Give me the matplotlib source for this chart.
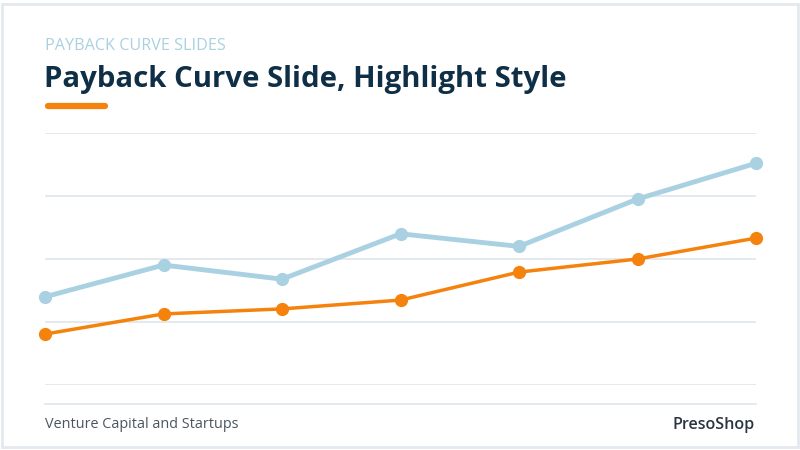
import matplotlib.pyplot as plt
from matplotlib.patches import FancyBboxPatch
from matplotlib.lines import Line2D

# Data
periods = [0, 1, 2, 3, 4, 5, 6]
series_blue = [35, 47.6, 42, 60, 55, 73.8, 88]
series_orange = [20.2, 28.2, 30.2, 33.7, 44.8, 50, 58.3]
y_ticks = [0, 25, 50, 75, 100]

kicker = "PAYBACK CURVE SLIDES"
title = "Payback Curve Slide, Highlight Style"
footer_left = "Venture Capital and Startups"
footer_right = "PresoShop"

NAVY = "#0f2f47"
BLUE = "#a9d1e1"
ORANGE = "#f5820d"
GRID = "#dfe5ea"

plt.rcParams["font.family"] = ["Open Sans", "DejaVu Sans"]

fig = plt.figure(figsize=(8, 4.5), dpi=100)
fig.patch.set_facecolor("white")

W, H = 800, 450


def fx(px):
    return px / W


def fy(py):
    return 1 - py / H


# card border
fig.add_artist(FancyBboxPatch(
    (fx(2), fy(447)), fx(796), 443 / H,
    boxstyle="square,pad=0",
    transform=fig.transFigure,
    facecolor="white",
    edgecolor="#e3e9ee",
    linewidth=2,
    zorder=0
))

fig.text(fx(45), fy(46), kicker, color="#a9d1e1",
         fontsize=11.6, va="center", ha="left")
fig.text(fx(44), fy(79), title, color=NAVY,
         fontsize=21.2, fontweight="bold", va="center", ha="left")

fig.add_artist(Line2D(
    [fx(48), fx(105)], [fy(106), fy(106)],
    transform=fig.transFigure,
    color=ORANGE, linewidth=4.5, solid_capstyle="round"
))

# chart area
ax = fig.add_axes([fx(45), fy(385), fx(756 - 45), (385 - 133) / H])
ax.set_xlim(0, 6)
ax.set_ylim(0, 100)
ax.set_yticks(y_ticks)
ax.set_xticks([])
ax.tick_params(left=False, labelleft=False)
ax.grid(axis="y", color=GRID, linewidth=1.2)
for s in ax.spines.values():
    s.set_visible(False)
ax.set_facecolor("none")

ax.plot(periods, series_blue, color=BLUE, linewidth=3.5,
        marker="o", markersize=8.5, clip_on=False, zorder=3)
ax.plot(periods, series_orange, color=ORANGE, linewidth=2.5,
        marker="o", markersize=8.5, clip_on=False, zorder=4)

# footer separator
fig.add_artist(Line2D(
    [fx(45), fx(756)], [fy(404), fy(404)],
    transform=fig.transFigure,
    color=GRID, linewidth=1.2
))

fig.text(fx(45), fy(425), footer_left, color="#4a5560",
         fontsize=10.4, va="center", ha="left")
fig.text(fx(755), fy(425), footer_right, color="#2a3540",
         fontsize=11.6, va="center", ha="right", fontweight="semibold")

fig.savefig("out.png", dpi=100, facecolor="white")
